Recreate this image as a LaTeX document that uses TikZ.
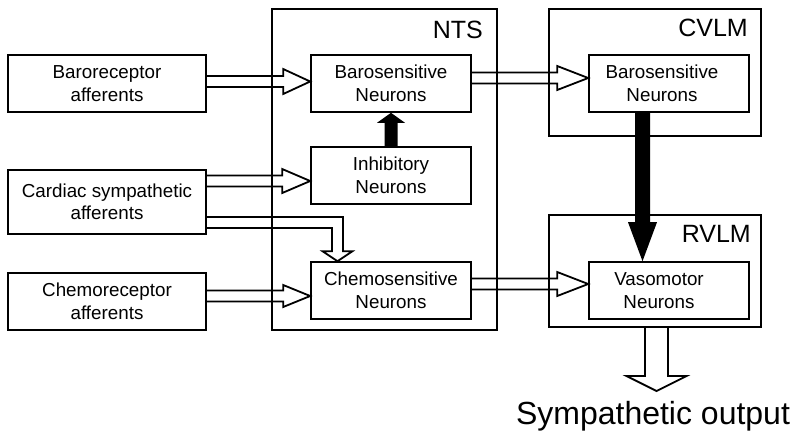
\documentclass[tikz,border=0pt]{standalone}
\usepackage{fontspec}
\setmainfont{Liberation Sans}
\usetikzlibrary{positioning,calc}

\tikzset{
  afbox/.style={draw,line width=1.6pt,minimum width=198pt,minimum height=57pt,align=center,inner sep=0pt,font=\fontsize{18.8}{22.5}\selectfont},
  nbox/.style={draw,line width=1.6pt,minimum width=160pt,minimum height=57pt,align=center,inner sep=0pt,font=\fontsize{18.8}{22.5}\selectfont},
  region/.style={draw,line width=2pt,inner sep=0pt},
  reglbl/.style={anchor=base east,inner sep=0pt,font=\fontsize{25}{30}\selectfont},
  hollow/.style={draw,line width=1.8pt,line join=miter},
}

% hollow arrow pointing right: from, tip, head length, half head width
\newcommand{\hollowh}[4]{%
  \draw[hollow] ($(#1)+(0,-5.5)$) -- ($(#2)+(-#3,-5.5)$) -- ($(#2)+(-#3,-#4)$) -- (#2)
    -- ($(#2)+(-#3,#4)$) -- ($(#2)+(-#3,5.5)$) -- ($(#1)+(0,5.5)$);}
% solid vertical arrow: from, tip, half shaft, head length (signed), half head width
\newcommand{\solidv}[5]{%
  \fill ($(#1)+(-#3,0)$) -- ($(#2)+(-#3,#4)$) -- ($(#2)+(-#5,#4)$) -- (#2)
    -- ($(#2)+(#5,#4)$) -- ($(#2)+(#3,#4)$) -- ($(#1)+(#3,0)$) -- cycle;}

\begin{document}
\begin{tikzpicture}[x=1pt,y=-1pt]
  \useasboundingbox (0,0) rectangle (800,440);

  % regions
  \node[region,minimum width=225pt,minimum height=321pt] (nts) at (384.5,169.5) {};
  \node[region,minimum width=212pt,minimum height=127pt] (cvlm) at (655,72.5) {};
  \node[region,minimum width=212pt,minimum height=112pt] (rvlm) at (655,271) {};
  \node[reglbl] (ntslbl) at (483,38) {NTS};
  \node[reglbl] (cvlmlbl) at (748,36) {CVLM};
  \node[reglbl] (rvlmlbl) at (751,242) {RVLM};

  % afferents
  \node[afbox] (baro) at (107,83.5) {Baroreceptor\\afferents};
  \node[afbox,minimum height=64pt] (cardiac) at (107,202) {Cardiac sympathetic\\afferents};
  \node[afbox] (chemorec) at (107,301.5) {Chemoreceptor\\afferents};

  % neurons
  \node[nbox] (nbaro) at (391,83.5) {Barosensitive\\Neurons};
  \node[nbox] (inhib) at (391,175.5) {Inhibitory\\Neurons};
  \node[nbox] (chemons) at (391,290.5) {Chemosensitive\\Neurons};
  \node[nbox,text width=150pt] (cbaro) at (669,83.5) {\hspace*{-14pt}Barosensitive\\\hspace*{-14pt}Neurons};
  \node[nbox,text width=150pt] (vaso) at (669,290.5) {\hspace*{-20pt}Vasomotor\\\hspace*{-20pt}Neurons};

  % hollow arrows
  \coordinate (t1) at ($(nbaro.west)+(0,-2)$);
  \coordinate (s1) at (baro.east |- t1);
  \hollowh{s1}{t1}{27}{12.5}
  \coordinate (t2) at ($(inhib.west)+(0,5.5)$);
  \coordinate (s2) at (cardiac.east |- t2);
  \hollowh{s2}{t2}{28}{12}
  \coordinate (t3) at ($(chemons.west)+(0,5.5)$);
  \coordinate (s3) at (chemorec.east |- t3);
  \hollowh{s3}{t3}{27}{11}
  \coordinate (t4) at ($(cbaro.west)+(0,-5.5)$);
  \coordinate (s4) at (nbaro.east |- t4);
  \hollowh{s4}{t4}{31}{12}
  \coordinate (t5) at ($(vaso.west)+(0,-6.5)$);
  \coordinate (s5) at (chemons.east |- t5);
  \hollowh{s5}{t5}{31}{12}

  % cardiac -> chemosensitive
  \coordinate (t6) at ($(chemons.north)+(-53.5,0)$);
  \coordinate (s6) at ($(cardiac.east)+(0,20.5)$);
  \draw[hollow] ($(s6)+(0,5.5)$) -| ($(t6)+(-5.5,-10)$) -- ($(t6)+(-15,-10)$) -- (t6)
    -- ($(t6)+(15,-10)$) -- ($(t6)+(5.5,-10)$) |- ($(s6)+(0,-5.5)$);

  % solid arrows
  \solidv{inhib.north}{nbaro.south}{6.5}{10}{14}
  \coordinate (b1) at ($(cbaro.south)+(-26.5,0)$);
  \coordinate (b2) at ($(vaso.north)+(-26.5,0)$);
  \solidv{b1}{b2}{7.5}{-39}{14.5}

  % output
  \coordinate (o1) at ($(rvlm.south)+(1.5,0)$);
  \coordinate (o2) at ($(o1)+(0,63)$);
  \draw[hollow] ($(o1)+(-11.5,0)$) -- ($(o2)+(-11.5,-15)$) -- ($(o2)+(-30,-15)$) -- (o2)
    -- ($(o2)+(30,-15)$) -- ($(o2)+(11.5,-15)$) -- ($(o1)+(11.5,0)$);
  \node[anchor=base,inner sep=0pt,font=\fontsize{32}{38}\selectfont] (symout) at (653,424) {Sympathetic output};
\end{tikzpicture}
\end{document}
